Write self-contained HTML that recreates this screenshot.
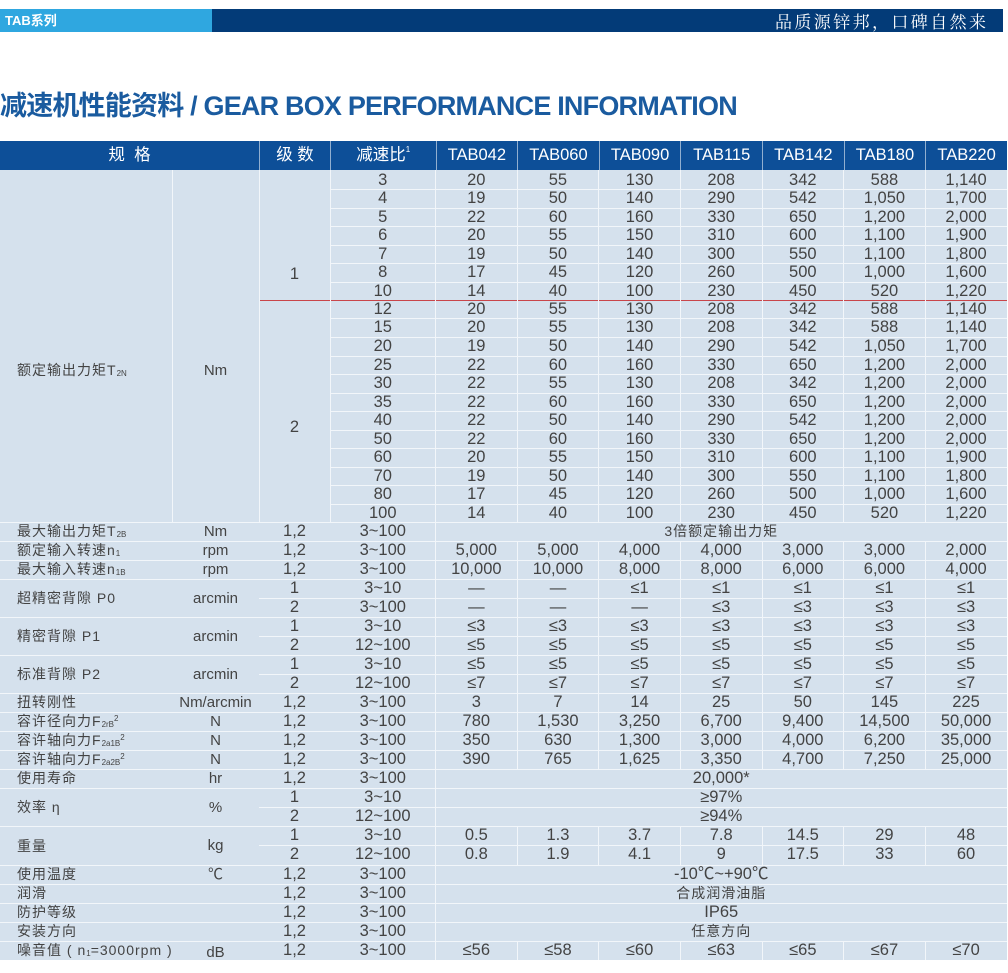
<!DOCTYPE html>
<html><head><meta charset="utf-8">
<style>
*{margin:0;padding:0}
html,body{width:1008px;height:973px;overflow:hidden;background:#fff}
body{position:relative;font-family:"Liberation Sans","Noto Sans CJK SC",sans-serif;color:#434343}
.a{position:absolute}
#b1{left:0;top:9px;width:212px;height:23px;background:#2fa7e0;color:#fff;font-weight:bold;font-size:13px;line-height:23px;padding-left:5px;box-sizing:border-box;font-family:"Liberation Sans","Noto Sans CJK SC",sans-serif}
#b2{left:212px;top:9px;width:791px;height:23px;background:#033b78}
#slo{left:775px;top:9px;height:23px;line-height:23px;color:#fff;font-family:"Noto Serif CJK SC",serif;font-size:17px;letter-spacing:2.4px;white-space:nowrap}
#tit{left:0;top:90px;line-height:32px;font-size:27px;font-weight:bold;color:#1a5b9f;letter-spacing:-0.8px;white-space:nowrap;font-family:"Liberation Sans","Noto Sans CJK SC",sans-serif}
#bg{left:0;top:170px;width:1007px;height:790px;background:#d5e1ed}
.hd{left:0;top:141px;width:1007px;height:29px;line-height:29px;display:flex;background:#0d4f98;color:#fff;font-size:16.5px}
.hd span{width:81.64px;text-align:center;flex:none;box-sizing:border-box;border-left:1px solid rgba(255,255,255,.55);white-space:nowrap}
.hd span:first-child{border-left:none}
.hd sup{font-size:8px;vertical-align:baseline;position:relative;top:-8px;line-height:0}
.h{position:absolute;height:1px;background:#f2f6fa}
.v{position:absolute;width:1px;background:#f2f6fa}
.t{position:absolute;left:330px;height:18px;line-height:19px;display:flex;font-size:16.5px}
.t span{width:81.64px;text-align:center;flex:none;white-space:nowrap}
.t span:first-child{width:105.5px}
.l{position:absolute;left:0;width:1007px;height:19px;line-height:19px;display:flex;font-size:16.5px}
.l span{width:81.64px;text-align:center;flex:none;white-space:nowrap}
.l .n{width:172px;text-align:left;padding-left:17px;box-sizing:border-box;font-size:14px;letter-spacing:1px}
.l .u{width:87px;font-size:15px}
.l .s{width:71px}
.l .q{width:105.5px}
.l .w{width:571.5px}
.l .c{font-size:14px;letter-spacing:1px}
sub{font-size:8px;vertical-align:-1px;letter-spacing:0;line-height:0}
.n sup{font-size:8px;vertical-align:5px;letter-spacing:0;line-height:0}
.lab{position:absolute;font-size:14px;letter-spacing:1px;white-space:nowrap;line-height:19px}
.un{position:absolute;width:87px;left:172px;text-align:center;font-size:15px;line-height:19px}
.st{position:absolute;width:71px;left:259px;text-align:center;font-size:16.5px;line-height:19px}
</style></head><body>

<div id="b1" class="a">TAB系列</div>
<div id="b2" class="a"></div>
<div id="slo" class="a">品质源锌邦，口碑自然来</div>

<div id="tit" class="a">减速机性能资料 / GEAR BOX PERFORMANCE INFORMATION</div>

<div id="bg" class="a"></div>

<div class="a hd"><span style="width:259px">规&nbsp;&nbsp;格</span><span style="width:71px">级&nbsp;数</span><span style="width:105.5px">减速比<sup>1</sup></span><span>TAB042</span><span>TAB060</span><span>TAB090</span><span>TAB115</span><span>TAB142</span><span>TAB180</span><span>TAB220</span></div>

<!-- top block lines -->
<div class="h" style="left:330px;width:677px;top:189px"></div>
<div class="h" style="left:330px;width:677px;top:208px"></div>
<div class="h" style="left:330px;width:677px;top:226px"></div>
<div class="h" style="left:330px;width:677px;top:245px"></div>
<div class="h" style="left:330px;width:677px;top:263px"></div>
<div class="h" style="left:330px;width:677px;top:282px"></div>
<div class="h" style="left:259px;width:748px;top:300px;background:#c9454a"></div>
<div class="h" style="left:330px;width:677px;top:318px"></div>
<div class="h" style="left:330px;width:677px;top:337px"></div>
<div class="h" style="left:330px;width:677px;top:356px"></div>
<div class="h" style="left:330px;width:677px;top:374px"></div>
<div class="h" style="left:330px;width:677px;top:393px"></div>
<div class="h" style="left:330px;width:677px;top:411px"></div>
<div class="h" style="left:330px;width:677px;top:430px"></div>
<div class="h" style="left:330px;width:677px;top:448px"></div>
<div class="h" style="left:330px;width:677px;top:467px"></div>
<div class="h" style="left:330px;width:677px;top:485px"></div>
<div class="h" style="left:330px;width:677px;top:504px"></div>
<div class="v" style="left:172px;top:170px;height:352px"></div>
<div class="v" style="left:259px;top:170px;height:352px"></div>
<div class="v" style="left:330px;top:170px;height:352px"></div>
<div class="v" style="left:435px;top:170px;height:790px"></div>
<div class="v" style="left:517px;top:170px;height:352px"></div>
<div class="v" style="left:598px;top:170px;height:352px"></div>
<div class="v" style="left:680px;top:170px;height:352px"></div>
<div class="v" style="left:762px;top:170px;height:352px"></div>
<div class="v" style="left:843px;top:170px;height:352px"></div>
<div class="v" style="left:925px;top:170px;height:352px"></div>

<!-- lower lines -->
<div class="h" style="left:0;width:1007px;top:522px"></div>
<div class="h" style="left:0;width:1007px;top:541px"></div>
<div class="h" style="left:0;width:1007px;top:560px"></div>
<div class="h" style="left:0;width:1007px;top:579px"></div>
<div class="h" style="left:259px;width:748px;top:598px"></div>
<div class="h" style="left:0;width:1007px;top:617px"></div>
<div class="h" style="left:259px;width:748px;top:636px"></div>
<div class="h" style="left:0;width:1007px;top:655px"></div>
<div class="h" style="left:259px;width:748px;top:674px"></div>
<div class="h" style="left:0;width:1007px;top:693px"></div>
<div class="h" style="left:0;width:1007px;top:712px"></div>
<div class="h" style="left:0;width:1007px;top:731px"></div>
<div class="h" style="left:0;width:1007px;top:750px"></div>
<div class="h" style="left:0;width:1007px;top:769px"></div>
<div class="h" style="left:0;width:1007px;top:788px"></div>
<div class="h" style="left:259px;width:748px;top:807px"></div>
<div class="h" style="left:0;width:1007px;top:826px"></div>
<div class="h" style="left:259px;width:748px;top:845px"></div>
<div class="h" style="left:0;width:1007px;top:865px"></div>
<div class="h" style="left:0;width:1007px;top:884px"></div>
<div class="h" style="left:0;width:1007px;top:903px"></div>
<div class="h" style="left:0;width:1007px;top:922px"></div>
<div class="h" style="left:0;width:1007px;top:941px"></div>

<div class="v" style="left:517px;top:541px;height:228px"></div>
<div class="v" style="left:598px;top:541px;height:228px"></div>
<div class="v" style="left:680px;top:541px;height:228px"></div>
<div class="v" style="left:762px;top:541px;height:228px"></div>
<div class="v" style="left:843px;top:541px;height:228px"></div>
<div class="v" style="left:925px;top:541px;height:228px"></div>
<div class="v" style="left:517px;top:826px;height:39px"></div>
<div class="v" style="left:598px;top:826px;height:39px"></div>
<div class="v" style="left:680px;top:826px;height:39px"></div>
<div class="v" style="left:762px;top:826px;height:39px"></div>
<div class="v" style="left:843px;top:826px;height:39px"></div>
<div class="v" style="left:925px;top:826px;height:39px"></div>
<div class="v" style="left:517px;top:941px;height:19px"></div>
<div class="v" style="left:598px;top:941px;height:19px"></div>
<div class="v" style="left:680px;top:941px;height:19px"></div>
<div class="v" style="left:762px;top:941px;height:19px"></div>
<div class="v" style="left:843px;top:941px;height:19px"></div>
<div class="v" style="left:925px;top:941px;height:19px"></div>

<!-- top block labels -->
<div class="lab" style="left:17px;top:361px">额定输出力矩T<sub>2N</sub></div>
<div class="un" style="top:361px">Nm</div>
<div class="st" style="top:265px">1</div>
<div class="st" style="top:418px">2</div>

<!-- top block rows -->
<div class="t" style="top:171px"><span>3</span><span>20</span><span>55</span><span>130</span><span>208</span><span>342</span><span>588</span><span>1,140</span></div>
<div class="t" style="top:189px"><span>4</span><span>19</span><span>50</span><span>140</span><span>290</span><span>542</span><span>1,050</span><span>1,700</span></div>
<div class="t" style="top:208px"><span>5</span><span>22</span><span>60</span><span>160</span><span>330</span><span>650</span><span>1,200</span><span>2,000</span></div>
<div class="t" style="top:226px"><span>6</span><span>20</span><span>55</span><span>150</span><span>310</span><span>600</span><span>1,100</span><span>1,900</span></div>
<div class="t" style="top:245px"><span>7</span><span>19</span><span>50</span><span>140</span><span>300</span><span>550</span><span>1,100</span><span>1,800</span></div>
<div class="t" style="top:263px"><span>8</span><span>17</span><span>45</span><span>120</span><span>260</span><span>500</span><span>1,000</span><span>1,600</span></div>
<div class="t" style="top:282px"><span>10</span><span>14</span><span>40</span><span>100</span><span>230</span><span>450</span><span>520</span><span>1,220</span></div>
<div class="t" style="top:300px"><span>12</span><span>20</span><span>55</span><span>130</span><span>208</span><span>342</span><span>588</span><span>1,140</span></div>
<div class="t" style="top:318px"><span>15</span><span>20</span><span>55</span><span>130</span><span>208</span><span>342</span><span>588</span><span>1,140</span></div>
<div class="t" style="top:337px"><span>20</span><span>19</span><span>50</span><span>140</span><span>290</span><span>542</span><span>1,050</span><span>1,700</span></div>
<div class="t" style="top:356px"><span>25</span><span>22</span><span>60</span><span>160</span><span>330</span><span>650</span><span>1,200</span><span>2,000</span></div>
<div class="t" style="top:374px"><span>30</span><span>22</span><span>55</span><span>130</span><span>208</span><span>342</span><span>1,200</span><span>2,000</span></div>
<div class="t" style="top:393px"><span>35</span><span>22</span><span>60</span><span>160</span><span>330</span><span>650</span><span>1,200</span><span>2,000</span></div>
<div class="t" style="top:411px"><span>40</span><span>22</span><span>50</span><span>140</span><span>290</span><span>542</span><span>1,200</span><span>2,000</span></div>
<div class="t" style="top:430px"><span>50</span><span>22</span><span>60</span><span>160</span><span>330</span><span>650</span><span>1,200</span><span>2,000</span></div>
<div class="t" style="top:448px"><span>60</span><span>20</span><span>55</span><span>150</span><span>310</span><span>600</span><span>1,100</span><span>1,900</span></div>
<div class="t" style="top:467px"><span>70</span><span>19</span><span>50</span><span>140</span><span>300</span><span>550</span><span>1,100</span><span>1,800</span></div>
<div class="t" style="top:485px"><span>80</span><span>17</span><span>45</span><span>120</span><span>260</span><span>500</span><span>1,000</span><span>1,600</span></div>
<div class="t" style="top:504px"><span>100</span><span>14</span><span>40</span><span>100</span><span>230</span><span>450</span><span>520</span><span>1,220</span></div>

<!-- lower rows -->
<div class="l" style="top:522px"><span class="n">最大输出力矩T<sub>2B</sub></span><span class="u">Nm</span><span class="s">1,2</span><span class="q">3~100</span><span class="w c">3倍额定输出力矩</span></div>
<div class="l" style="top:541px"><span class="n">额定输入转速n<sub>1</sub></span><span class="u">rpm</span><span class="s">1,2</span><span class="q">3~100</span><span>5,000</span><span>5,000</span><span>4,000</span><span>4,000</span><span>3,000</span><span>3,000</span><span>2,000</span></div>
<div class="l" style="top:560px"><span class="n">最大输入转速n<sub>1B</sub></span><span class="u">rpm</span><span class="s">1,2</span><span class="q">3~100</span><span>10,000</span><span>10,000</span><span>8,000</span><span>8,000</span><span>6,000</span><span>6,000</span><span>4,000</span></div>

<div class="lab" style="left:17px;top:589px">超精密背隙&nbsp;P0</div>
<div class="un" style="top:589px">arcmin</div>
<div class="l" style="top:579px"><span class="n"></span><span class="u"></span><span class="s">1</span><span class="q">3~10</span><span>—</span><span>—</span><span>≤1</span><span>≤1</span><span>≤1</span><span>≤1</span><span>≤1</span></div>
<div class="l" style="top:598px"><span class="n"></span><span class="u"></span><span class="s">2</span><span class="q">3~100</span><span>—</span><span>—</span><span>—</span><span>≤3</span><span>≤3</span><span>≤3</span><span>≤3</span></div>

<div class="lab" style="left:17px;top:627px">精密背隙&nbsp;P1</div>
<div class="un" style="top:627px">arcmin</div>
<div class="l" style="top:617px"><span class="n"></span><span class="u"></span><span class="s">1</span><span class="q">3~10</span><span>≤3</span><span>≤3</span><span>≤3</span><span>≤3</span><span>≤3</span><span>≤3</span><span>≤3</span></div>
<div class="l" style="top:636px"><span class="n"></span><span class="u"></span><span class="s">2</span><span class="q">12~100</span><span>≤5</span><span>≤5</span><span>≤5</span><span>≤5</span><span>≤5</span><span>≤5</span><span>≤5</span></div>

<div class="lab" style="left:17px;top:665px">标准背隙&nbsp;P2</div>
<div class="un" style="top:665px">arcmin</div>
<div class="l" style="top:655px"><span class="n"></span><span class="u"></span><span class="s">1</span><span class="q">3~10</span><span>≤5</span><span>≤5</span><span>≤5</span><span>≤5</span><span>≤5</span><span>≤5</span><span>≤5</span></div>
<div class="l" style="top:674px"><span class="n"></span><span class="u"></span><span class="s">2</span><span class="q">12~100</span><span>≤7</span><span>≤7</span><span>≤7</span><span>≤7</span><span>≤7</span><span>≤7</span><span>≤7</span></div>

<div class="l" style="top:693px"><span class="n">扭转刚性</span><span class="u">Nm/arcmin</span><span class="s">1,2</span><span class="q">3~100</span><span>3</span><span>7</span><span>14</span><span>25</span><span>50</span><span>145</span><span>225</span></div>
<div class="l" style="top:712px"><span class="n">容许径向力F<sub>2rB</sub><sup>2</sup></span><span class="u">N</span><span class="s">1,2</span><span class="q">3~100</span><span>780</span><span>1,530</span><span>3,250</span><span>6,700</span><span>9,400</span><span>14,500</span><span>50,000</span></div>
<div class="l" style="top:731px"><span class="n">容许轴向力F<sub>2a1B</sub><sup>2</sup></span><span class="u">N</span><span class="s">1,2</span><span class="q">3~100</span><span>350</span><span>630</span><span>1,300</span><span>3,000</span><span>4,000</span><span>6,200</span><span>35,000</span></div>
<div class="l" style="top:750px"><span class="n">容许轴向力F<sub>2a2B</sub><sup>2</sup></span><span class="u">N</span><span class="s">1,2</span><span class="q">3~100</span><span>390</span><span>765</span><span>1,625</span><span>3,350</span><span>4,700</span><span>7,250</span><span>25,000</span></div>
<div class="l" style="top:769px"><span class="n">使用寿命</span><span class="u">hr</span><span class="s">1,2</span><span class="q">3~100</span><span class="w">20,000*</span></div>

<div class="lab" style="left:17px;top:798px">效率&nbsp;η</div>
<div class="un" style="top:798px">%</div>
<div class="l" style="top:788px"><span class="n"></span><span class="u"></span><span class="s">1</span><span class="q">3~10</span><span class="w">≥97%</span></div>
<div class="l" style="top:807px"><span class="n"></span><span class="u"></span><span class="s">2</span><span class="q">12~100</span><span class="w">≥94%</span></div>

<div class="lab" style="left:17px;top:837px">重量</div>
<div class="un" style="top:836px">kg</div>
<div class="l" style="top:826px"><span class="n"></span><span class="u"></span><span class="s">1</span><span class="q">3~10</span><span>0.5</span><span>1.3</span><span>3.7</span><span>7.8</span><span>14.5</span><span>29</span><span>48</span></div>
<div class="l" style="top:845px"><span class="n"></span><span class="u"></span><span class="s">2</span><span class="q">12~100</span><span>0.8</span><span>1.9</span><span>4.1</span><span>9</span><span>17.5</span><span>33</span><span>60</span></div>

<div class="l" style="top:865px"><span class="n">使用温度</span><span class="u">℃</span><span class="s">1,2</span><span class="q">3~100</span><span class="w">-10℃~+90℃</span></div>
<div class="l" style="top:884px"><span class="n">润滑</span><span class="u"></span><span class="s">1,2</span><span class="q">3~100</span><span class="w c">合成润滑油脂</span></div>
<div class="l" style="top:903px"><span class="n">防护等级</span><span class="u"></span><span class="s">1,2</span><span class="q">3~100</span><span class="w">IP65</span></div>
<div class="l" style="top:922px"><span class="n">安装方向</span><span class="u"></span><span class="s">1,2</span><span class="q">3~100</span><span class="w c">任意方向</span></div>
<div class="l" style="top:941px"><span class="n">噪音值 ( n<sub>1</sub>=3000rpm )</span><span class="u" style="padding-top:2px">dB</span><span class="s">1,2</span><span class="q">3~100</span><span>≤56</span><span>≤58</span><span>≤60</span><span>≤63</span><span>≤65</span><span>≤67</span><span>≤70</span></div>

</body></html>
